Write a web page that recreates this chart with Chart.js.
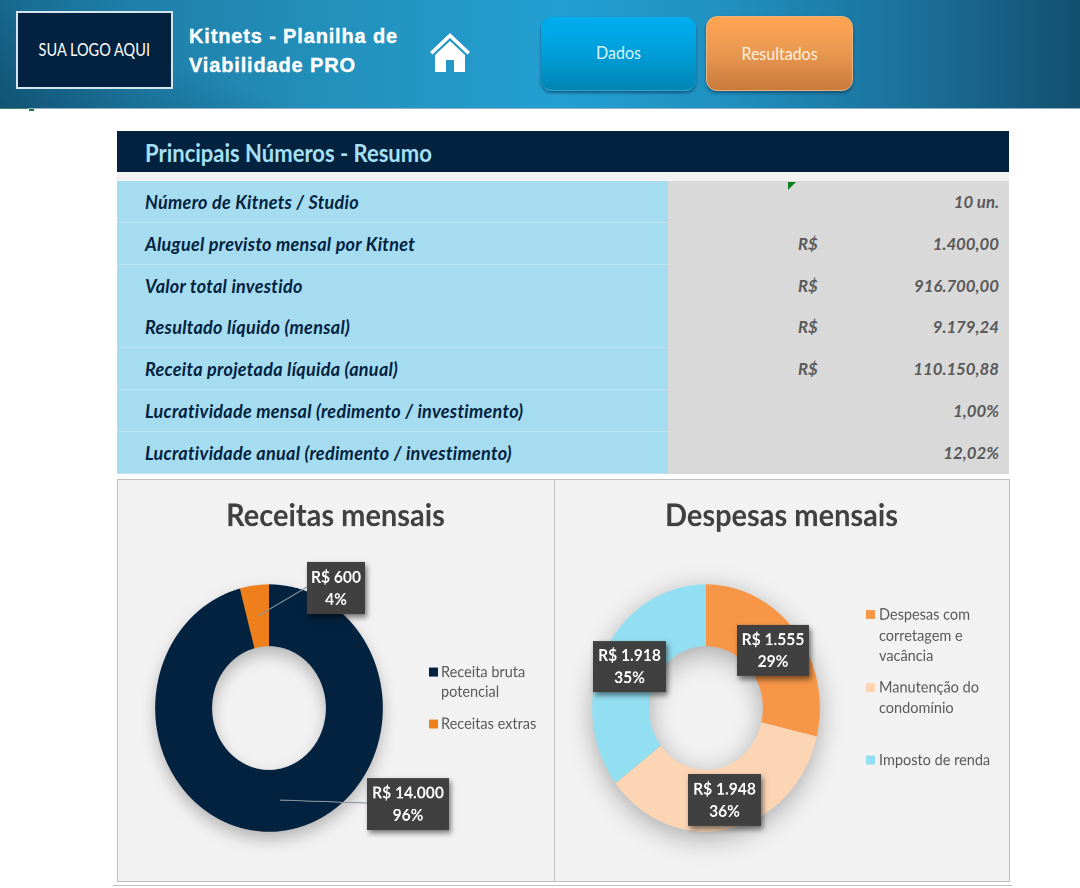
<!DOCTYPE html>
<html lang="pt-BR"><head><meta charset="utf-8">
<script src="https://cdn.jsdelivr.net/npm/chart.js@4"></script>
<style>
html,body{margin:0;padding:0;background:#fff;overflow:hidden}
#page{position:relative;width:1080px;height:888px;overflow:hidden;font-family:Lato,sans-serif;font-variant-ligatures:none}
.abs{position:absolute}
.tall{display:inline-block;transform:scaleY(1.09)}
#band{left:0;top:0;width:1080px;height:108px;border-bottom:1px solid #8fb3c2;
 background:linear-gradient(20deg,rgba(8,50,80,.4) 0,rgba(8,50,80,0) 22%),linear-gradient(90deg,#17698d 0,#1f7fa8 12%,#2290bb 30%,#249fd2 52%,#1f8fbe 68%,#1b6f98 85%,#124f70 100%)}
#logo{left:16px;top:11px;width:153px;height:74px;border:2px solid #d4e6ec;background:#03223f;color:#fff;
 font-size:16.5px;line-height:74px;text-align:center}
#logo span{display:inline-block;transform:scale(.88,1.05)}
#brand{left:189px;top:22px;font:bold 20px/29px "Liberation Sans",sans-serif;color:#fff;letter-spacing:.85px;-webkit-text-stroke:.35px #fff}
.btn{color:#fff;font-size:16px;text-align:center;box-sizing:border-box;border-radius:11px}
#b1{left:541px;top:17px;width:155px;height:74px;line-height:70px;color:#d8f6ff;
 background:linear-gradient(180deg,#00aeef 0,#00a0dc 45%,#0385b4 100%);box-shadow:0 2px 3px rgba(0,40,70,.55);border-bottom:1px solid #2ea5cd}
#b2{left:706px;top:16px;width:147px;height:75px;line-height:71px;color:#fff0dd;
 background:linear-gradient(180deg,#ffa552 0,#eb9a52 45%,#c97b3c 100%);border:1px solid #e9b27e;box-shadow:0 2px 3px rgba(0,40,70,.5)}
#head{left:117px;top:131px;width:892px;height:41px;background:#03223f;color:#a6e0f4;font-size:22px;font-weight:700;line-height:44px;box-sizing:border-box;padding-left:28px}
#gap{left:117px;top:172px;width:892px;height:9px;background:#f2f2f2}
.row{position:absolute;left:117px;width:892px;height:42px;font-style:italic;font-weight:700;line-height:42px;background:#d9d9d9;color:#595959;font-size:16.8px}
.row .k{position:absolute;left:0;top:0;width:551px;height:42px;background:#a6dcf0;color:#03223f;padding-left:28px;box-sizing:border-box;font-size:18px;letter-spacing:.28px;border-bottom:1px solid #bde4f3}
.row .c{position:absolute;left:681px;top:0}
.row .v{position:absolute;right:10px;top:0}
.panel{position:absolute;top:479px;height:402px;background:#f2f2f2;overflow:hidden}
.panel canvas{position:absolute;left:0;top:0;transform-origin:0 0;transform:scale(1,1.0865)}
.frame{position:absolute;top:479px;height:401px;border:1px solid #bfbfbf;pointer-events:none}
</style></head>
<body><div id="page">
<div id="band" class="abs"></div>
<div class="abs" style="left:0;top:108px;width:28px;height:1px;background:#3c8a5c"></div>
<div class="abs" style="left:29px;top:109px;width:5px;height:2px;background:#1f7a45"></div>
<div id="logo" class="abs"><span>SUA LOGO AQUI</span></div>
<div id="brand" class="abs">Kitnets - Planilha de<br>Viabilidade PRO</div>
<svg class="abs" style="left:429px;top:31px" width="42" height="42" viewBox="0 0 42 42">
 <path d="M1 21 L21 2 L41 21 L38.500 23.500 L21 7 L3.500 23.500Z" fill="#fff"/>
 <path d="M6 24 L21 10 L36 24 V41 H25 V29 H17 V41 H6Z" fill="#fff"/>
</svg>
<div id="b1" class="abs btn"><span class="tall">Dados</span></div>
<div id="b2" class="abs btn"><span class="tall">Resultados</span></div>
<div id="head" class="abs"><span class="tall">Principais Números - Resumo</span></div>
<div id="gap" class="abs"></div>
<div id="rows"></div>
<div class="abs" style="left:788px;top:182px;width:0;height:0;border-top:8px solid #0a7d1e;border-right:8px solid transparent"></div>
<div class="panel" style="left:117px;width:437px"><canvas id="c1"></canvas></div>
<div class="panel" style="left:554px;width:455px"><canvas id="c2"></canvas></div>
<div class="frame" style="left:117px;width:436px"></div>
<div class="frame" style="left:554px;width:454px"></div>
<div class="abs" style="left:113px;top:885px;width:899px;height:1px;background:#bfbfbf"></div>
</div>
<script>
// ---- table ----
const rowLabels = ["Número de Kitnets / Studio","Aluguel previsto mensal por Kitnet","Valor total investido","Resultado líquido (mensal)","Receita projetada líquida (anual)","Lucratividade mensal (redimento / investimento)","Lucratividade anual (redimento / investimento)"];
const rowCurrency = ["","R$","R$","R$","R$","",""];
const rowValues = ["10 un.","1.400,00","916.700,00","9.179,24","110.150,88","1,00%","12,02%"];
// ---- charts ----
const receitasTitle = "Receitas mensais";
const receitasLabels = ["Receita bruta potencial","Receitas extras"];
const receitasValues = [14000,600];
const receitasColors = ["#03223f","#ee7f1b"];
const despesasTitle = "Despesas mensais";
const despesasLabels = ["Despesas com corretagem e vacância","Manutenção do condomínio","Imposto de renda"];
const despesasValues = [1555,1948,1918];
const despesasColors = ["#f79646","#fcd5b5","#93dff2"];
// legend line breaks, as wrapped in the picture
const receitasLegendLines = [["Receita bruta","potencial"],["Receitas extras"]];
const despesasLegendLines = [["Despesas com","corretagem e","vacância"],["Manutenção do","condomínio"],["Imposto de renda"]];

const rowsEl = document.getElementById('rows');
rowLabels.forEach((t,i)=>{
  const r=document.createElement('div'); r.className='row';
  r.style.top=Math.round(181+i*41.8)+'px';
  r.innerHTML='<div class="k"></div><div class="c"></div><div class="v"></div>';
  r.querySelector('.k').textContent=t;
  r.querySelector('.c').textContent=rowCurrency[i];
  r.querySelector('.v').textContent=rowValues[i];
  rowsEl.appendChild(r);
});

const SY = 1.0865;            // vertical stretch of the picture
const fmt = v => 'R$ ' + String(v).replace(/\B(?=(\d{3})+$)/g,'.');

// the title spans the whole panel, not the area left beside the padding
const fullTitle = {
  id:'fullTitle',
  afterLayout(chart){ const t=chart.titleBlock; t.left=0; t.right=chart.width; }
};
const ringShadow = {
  id:'ringShadow',
  beforeDatasetsDraw(chart,_,o){
    const a=chart.getDatasetMeta(0).data[0], c=chart.ctx, d=chart.currentDevicePixelRatio;
    c.save();
    c.shadowColor=o.color; c.shadowBlur=o.blur*d; c.shadowOffsetX=0; c.shadowOffsetY=o.dy*d;
    c.fillStyle='#888';
    c.beginPath();
    c.arc(a.x,a.y,a.outerRadius-1,0,Math.PI*2);
    c.arc(a.x,a.y,a.innerRadius+1,0,Math.PI*2,true);
    c.fill();
    c.restore();
  }
};
const annotate = {
  id:'annotate',
  afterDraw(chart,_,o){
    const c=chart.ctx, d=chart.currentDevicePixelRatio, data=chart.data.datasets[0].data;
    const total=data.reduce((a,b)=>a+b,0), arcs=chart.getDatasetMeta(0).data;
    c.save();
    // legend
    c.textBaseline='middle'; c.textAlign='left'; c.font='14.5px Lato';
    o.legend.forEach((lines,i)=>{
      const e=o.legendAt[i];
      c.fillStyle=chart.data.datasets[0].backgroundColor[i];
      c.fillRect(e.sx,(e.ys[0]-4.5)/SY,9,9/SY);
      c.fillStyle='#595959';
      lines.forEach((t,j)=>c.fillText(t,e.tx,e.ys[j]/SY));
    });
    // leader lines + value boxes
    data.forEach((v,i)=>{
      const b=o.boxes[i], p=arcs[i].tooltipPosition();
      const top=b.y/SY, h=b.h/SY;
      if(b.leader){
        c.strokeStyle='#8c969e'; c.lineWidth=1;
        c.beginPath(); c.moveTo(p.x,p.y); c.lineTo(b.leader[0],b.leader[1]/SY); c.stroke();
      }
      c.save();
      c.shadowColor='rgba(0,0,0,.5)'; c.shadowBlur=5*d; c.shadowOffsetX=2*d; c.shadowOffsetY=3*d;
      c.fillStyle='#404040'; c.fillRect(b.x,top,b.w,h);
      c.restore();
      c.fillStyle='#fff'; c.textAlign='center'; c.font='bold 15.6px Lato';
      const cx=b.x+b.w/2;
      c.fillText(fmt(v),cx,top+h*0.29);
      c.fillText(Math.round(v/total*100)+'%',cx,top+h*0.72);
    });
    c.restore();
  }
};
function donut(id,w,right,title,labels,values,colors,shadow,anno){
  const cv=document.getElementById(id);
  new Chart(cv,{
    type:'doughnut',
    data:{labels,datasets:[{data:values,backgroundColor:colors,borderWidth:0,hoverOffset:0}]},
    options:{
      responsive:false,animation:false,devicePixelRatio:2,cutout:'50%',
      layout:{padding:{left:38.15,right,top:0,bottom:45.3}},
      events:[],
      plugins:{
        legend:{display:false},tooltip:{enabled:false},
        title:{display:true,text:title,color:'#404040',font:{family:'Lato',weight:'bold',size:29,lineHeight:36/29},padding:{top:16,bottom:44.9}},
        ringShadow:shadow,annotate:anno
      }
    },
    plugins:[fullTitle,ringShadow,annotate]
  });
}
const c1=document.getElementById('c1'),c2=document.getElementById('c2');
c1.width=437;c1.height=370;c2.width=455;c2.height=370;
donut('c1',437,171.15,receitasTitle,receitasLabels,receitasValues,receitasColors,
  {color:'rgba(0,0,0,.28)',blur:16,dy:7},
  {legend:receitasLegendLines,
   legendAt:[{sx:312,tx:324,ys:[193,213]},{sx:312,tx:324,ys:[245]}],
   boxes:[{x:250,y:299,w:82,h:52,leader:[250,324]},{x:190,y:83,w:58,h:52,leader:[190,108]}]});
donut('c2',455,189.15,despesasTitle,despesasLabels,despesasValues,despesasColors,
  {color:'rgba(0,0,0,.32)',blur:26,dy:6},
  {legend:despesasLegendLines,
   legendAt:[{sx:312,tx:325,ys:[135.5,157,177]},{sx:312,tx:325,ys:[208.5,229]},{sx:312,tx:325,ys:[281]}],
   boxes:[{x:183,y:146,w:72,h:51},{x:134,y:295,w:73,h:52},{x:39,y:162,w:73,h:51}]});
</script>
</body></html>
